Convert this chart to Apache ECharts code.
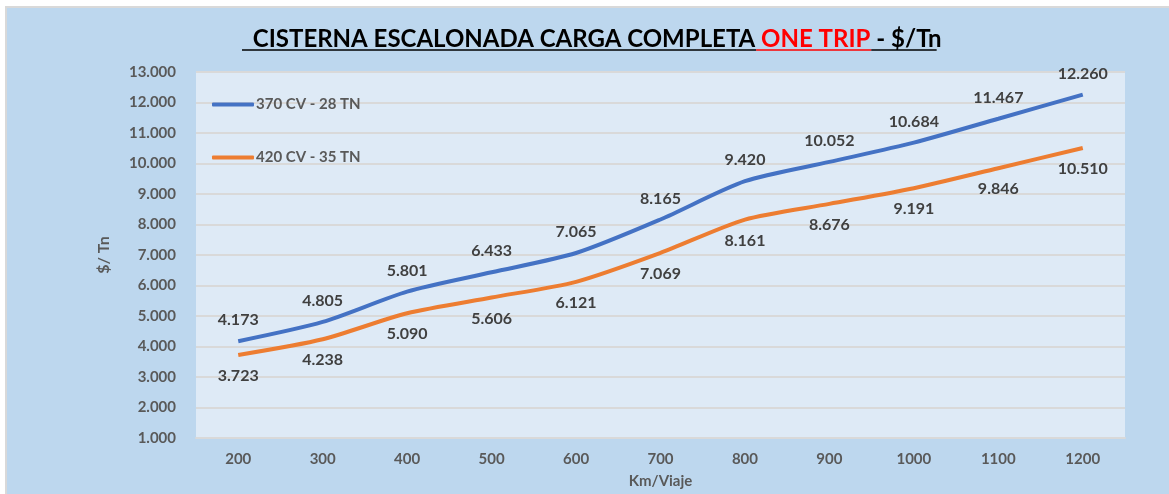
<!DOCTYPE html>
<html>
<head>
<meta charset="utf-8">
<title>Cisterna escalonada</title>
<style>
  body { margin: 0; background: #fff; }
  #frame { position: absolute; left: 5px; top: 6px; border-left: 2px solid #d9d9d9; border-top: 2px solid #d9d9d9; background: #bdd7ee; }
  #main { width: 1162px; height: 486px; }
</style>
</head>
<body>
<div id="frame"><div id="main"></div></div>
<script src="https://cdn.jsdelivr.net/npm/echarts@6/dist/echarts.min.js"></script>
<script>
var kmViaje = ['200', '300', '400', '500', '600', '700', '800', '900', '1000', '1100', '1200'];
var cv370 = [4173, 4805, 5801, 6433, 7065, 8165, 9420, 10052, 10684, 11467, 12260];
var cv420 = [3723, 4238, 5090, 5606, 6121, 7069, 8161, 8676, 9191, 9846, 10510];
var seriesNames = ['370 CV - 28 TN', '420 CV - 35 TN'];

var FONT = 'Lato, "Noto Sans", sans-serif';

// miles con punto: 4173 -> 4.173
function fmt(v) { return (v / 1000).toFixed(3); }

// medir el titulo para poner el subrayado
var titleSize = 24;
var ctx = document.createElement('canvas').getContext('2d');
ctx.font = 'bold ' + titleSize + 'px Lato';
var t1 = ' CISTERNA ESCALONADA CARGA COMPLETA ', t2 = 'ONE TRIP ', t3 = '- $/Tn';
var w1 = ctx.measureText(t1).width, w2 = ctx.measureText(t2).width, w3 = ctx.measureText(t3).width;
var titleLeft = Math.round(582 - (w1 + w2 + w3) / 2);
var lineY = 42;

var myChart = echarts.init(document.getElementById('main'));
var option = {
  backgroundColor: '#bdd7ee',
  animation: false,
  title: {
    left: titleLeft,
    top: 14,
    text: '{a|' + t1 + '}{b|' + t2 + '}{a|' + t3 + '}',
    textStyle: {
      rich: {
        a: { fontFamily: 'Lato', fontWeight: 'bold', fontSize: titleSize, color: '#000' },
        b: { fontFamily: 'Lato', fontWeight: 'bold', fontSize: titleSize, color: '#ff0000' }
      }
    }
  },
  graphic: [
    { type: 'line', shape: { x1: titleLeft, y1: lineY, x2: titleLeft + w1, y2: lineY }, style: { stroke: '#000', lineWidth: 1.5 } },
    { type: 'line', shape: { x1: titleLeft + w1, y1: lineY, x2: titleLeft + w1 + w2, y2: lineY }, style: { stroke: '#ff0000', lineWidth: 1.5 } },
    { type: 'line', shape: { x1: titleLeft + w1 + w2, y1: lineY, x2: titleLeft + w1 + w2 + w3, y2: lineY }, style: { stroke: '#000', lineWidth: 1.5 } }
  ],
  legend: {
    orient: 'vertical',
    left: 200,
    top: 84,
    itemGap: 38,
    itemWidth: 42,
    itemHeight: 4,
    icon: 'roundRect',
    textStyle: { fontFamily: FONT, fontWeight: 'bold', fontSize: 15, color: '#595959', padding: [0, 0, 0, -3] },
    data: seriesNames
  },
  grid: {
    left: 189, right: 44, top: 64, bottom: 52,
    show: true, backgroundColor: '#deeaf6', borderWidth: 0
  },
  xAxis: {
    type: 'category',
    data: kmViaje,
    name: 'Km/Viaje',
    nameLocation: 'middle',
    nameGap: 36,
    nameTextStyle: { fontFamily: FONT, fontWeight: 'bold', fontSize: 15, color: '#595959' },
    axisLine: { lineStyle: { color: '#d9d9d9', width: 2 } },
    axisTick: { show: false },
    axisLabel: { margin: 14, fontFamily: FONT, fontWeight: 'bold', fontSize: 15, color: '#595959' }
  },
  yAxis: {
    type: 'value',
    min: 1000, max: 13000, interval: 1000,
    name: '$/ Tn',
    nameLocation: 'middle',
    nameGap: 84,
    nameRotate: 90,
    nameTextStyle: { fontFamily: FONT, fontWeight: 'bold', fontSize: 16, color: '#595959' },
    axisLine: { show: false },
    axisTick: { show: false },
    axisLabel: { margin: 20, formatter: fmt, fontFamily: FONT, fontWeight: 'bold', fontSize: 15, color: '#595959' },
    splitLine: { lineStyle: { color: '#d9d9d9', width: 2 } }
  },
  series: [
    {
      name: seriesNames[0], type: 'line', data: cv370, smooth: 0.25,
      symbol: 'circle', symbolSize: 0, showSymbol: true,
      lineStyle: { color: '#4472c4', width: 4 }, itemStyle: { color: '#4472c4' },
      label: { show: true, position: 'top', distance: 13, formatter: function (p) { return fmt(p.value); },
        fontFamily: FONT, fontWeight: 'bold', fontSize: 16, color: '#404040' }
    },
    {
      name: seriesNames[1], type: 'line', data: cv420, smooth: 0.25,
      symbol: 'circle', symbolSize: 0, showSymbol: true,
      lineStyle: { color: '#ed7d31', width: 4 }, itemStyle: { color: '#ed7d31' },
      label: { show: true, position: 'bottom', distance: 13, formatter: function (p) { return fmt(p.value); },
        fontFamily: FONT, fontWeight: 'bold', fontSize: 16, color: '#404040' }
    }
  ]
};
myChart.setOption(option);
</script>
</body>
</html>
